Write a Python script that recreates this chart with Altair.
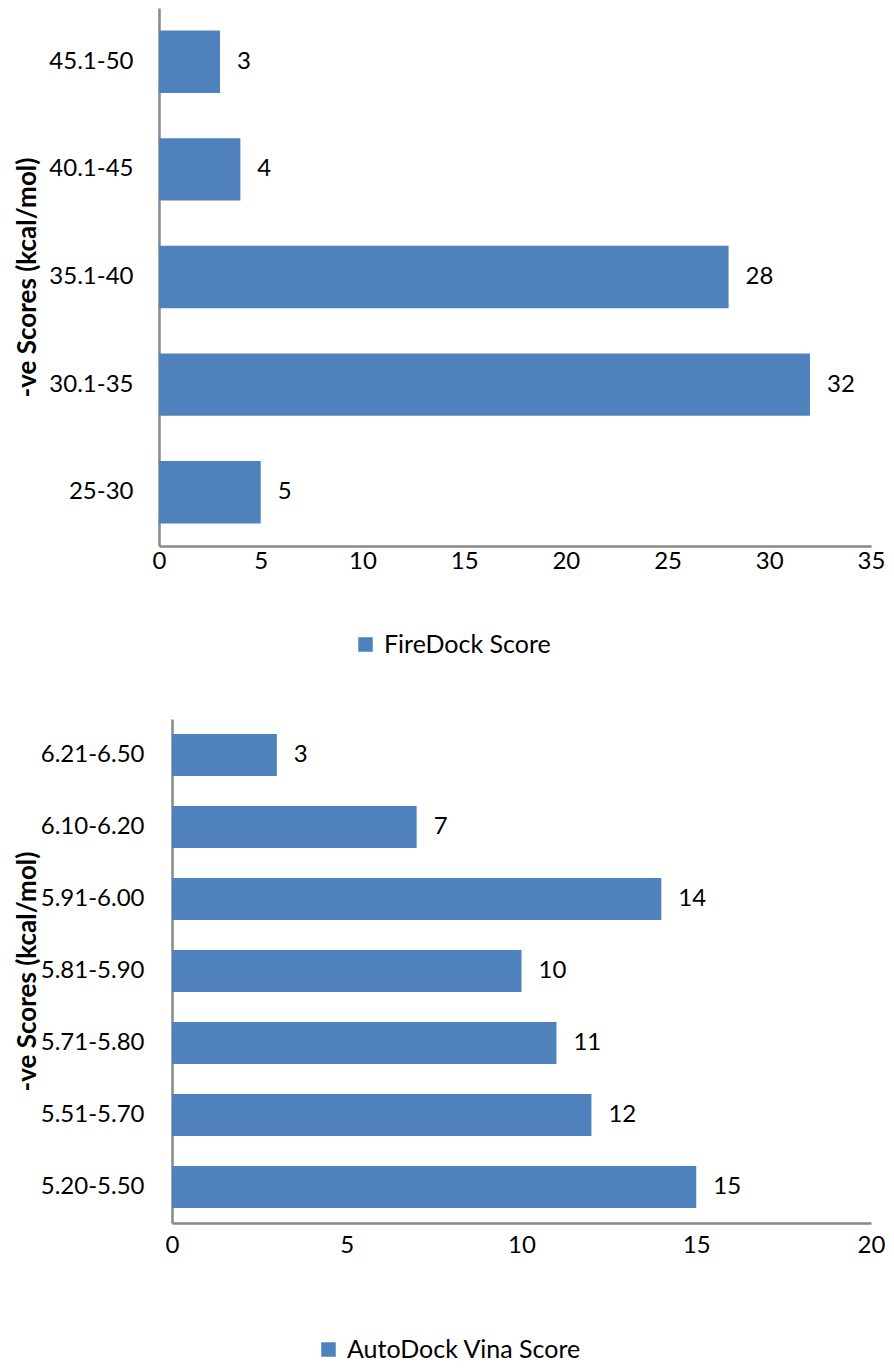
import altair as alt
import pandas as pd

# ---- data ----
fire_ranges = ["25-30", "30.1-35", "35.1-40", "40.1-45", "45.1-50"]
fire_counts = [5, 32, 28, 4, 3]
fire_ticks = [0, 5, 10, 15, 20, 25, 30, 35]

vina_ranges = ["5.20-5.50", "5.51-5.70", "5.71-5.80", "5.81-5.90",
               "5.91-6.00", "6.10-6.20", "6.21-6.50"]
vina_counts = [15, 12, 11, 10, 14, 7, 3]
vina_ticks = [0, 5, 10, 15, 20]

FONT = "Lato"
BLUE = "#4F81BD"
AXIS_GREY = "#888888"
LABEL_SIZE = 24
PLOT_W = 712


def panel(ranges, counts, series, ticks, xmax, height, x_range, y_offset,
          title_x, legend_x, legend_y, x_label_pad, y_label_pad):
    df = pd.DataFrame({"range": ranges, "count": counts, "series": series})
    order = ranges[::-1]
    yscale = alt.Scale(paddingInner=0.42, paddingOuter=0.21)
    xscale = alt.Scale(domain=[0, xmax], range=x_range, nice=False, zero=True)
    y = alt.Y(
        "range:N", sort=order, scale=yscale,
        axis=alt.Axis(
            title="-ve Scores (kcal/mol)", titleFont=FONT, titleFontSize=26,
            titleFontWeight="bold", titleColor="black", titleAngle=-90,
            titleX=title_x, titleY=height / 2, titleAlign="center",
            titleBaseline="middle",
            labelFont=FONT, labelFontSize=LABEL_SIZE, labelColor="black",
            labelPadding=y_label_pad, ticks=False, domainColor=AXIS_GREY,
            domainWidth=2.5, offset=y_offset, labelLimit=300,
        ),
    )
    x = alt.X(
        "count:Q", scale=xscale,
        axis=alt.Axis(
            values=ticks, title=None, grid=False, ticks=False,
            labelFont=FONT, labelFontSize=LABEL_SIZE, labelColor="black",
            labelPadding=x_label_pad, domainColor=AXIS_GREY, domainWidth=2.5,
            labelFlush=False,
        ),
    )
    bars = alt.Chart(df).mark_bar(color=BLUE).encode(
        x=x, y=y,
        color=alt.Color(
            "series:N", scale=alt.Scale(range=[BLUE]),
            legend=alt.Legend(
                orient="none", legendX=legend_x, legendY=legend_y,
                direction="horizontal", title=None, symbolType="square",
                symbolSize=210, symbolStrokeWidth=0, labelFont=FONT,
                labelFontSize=25, labelColor="black", padding=0,
                labelOffset=6, labelLimit=500,
            ),
        ),
    )
    text = alt.Chart(df).mark_text(
        align="left", baseline="middle", dx=17, font=FONT,
        fontSize=LABEL_SIZE, color="black",
    ).encode(
        x=alt.X("count:Q", scale=xscale),
        y=alt.Y("range:N", sort=order, scale=yscale),
        text="count:Q",
    )
    return alt.layer(bars, text).properties(width=PLOT_W, height=height)


top = panel(fire_ranges, fire_counts, ["FireDock Score"] * len(fire_ranges),
            fire_ticks, 35, 538, [0, PLOT_W], 0, -132, 194, 624, 3, 26)
bottom = panel(vina_ranges, vina_counts,
               ["AutoDock Vina Score"] * len(vina_ranges),
               vina_ticks, 20, 504, [13, PLOT_W], -13, -145, 157, 618, 10, 28)

chart = alt.vconcat(top, bottom, spacing=61).resolve_scale(
    color="independent", x="independent", y="independent"
).resolve_legend(color="independent").properties(
    padding={"left": 5, "top": 0, "right": 0, "bottom": 0}
).configure(background="white").configure_view(stroke=None)

chart.save("out.html", embed_options={"renderer": "svg", "actions": False})
